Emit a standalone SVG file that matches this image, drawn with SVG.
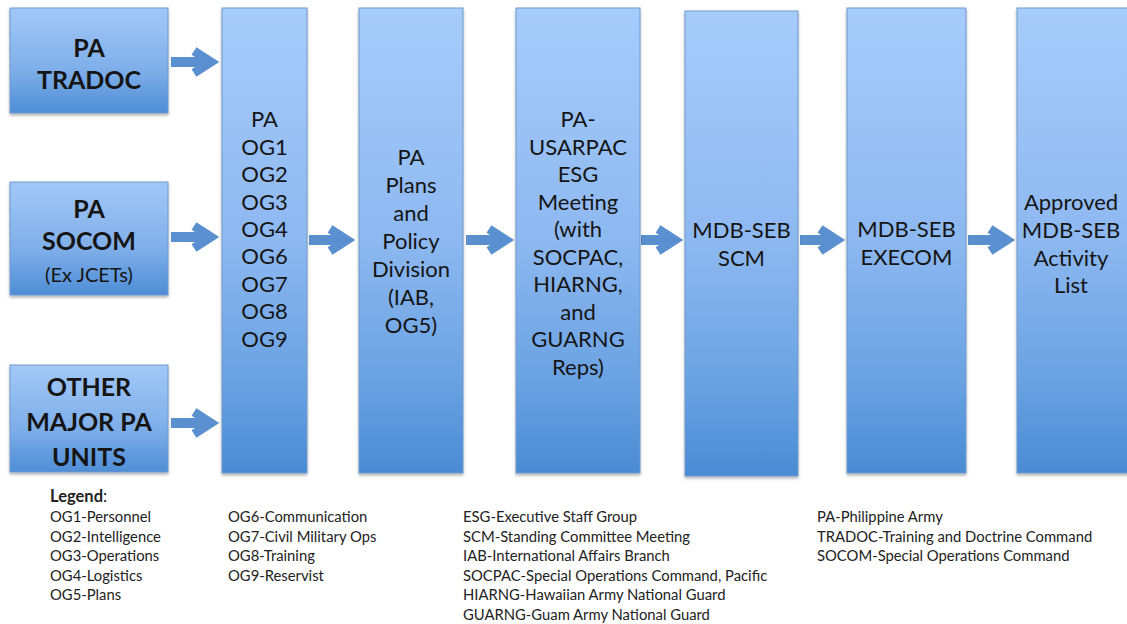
<svg xmlns="http://www.w3.org/2000/svg" width="1127" height="624" viewBox="0 0 1127 624">
<defs>
<linearGradient id="g" x1="0" y1="0" x2="0" y2="1">
<stop offset="0" stop-color="#a7ccfb"/>
<stop offset="0.5" stop-color="#8db8f0"/>
<stop offset="0.8" stop-color="#6aa2e2"/>
<stop offset="1" stop-color="#4a8bd4"/>
</linearGradient>
<linearGradient id="gs" x1="0" y1="0" x2="0" y2="1">
<stop offset="0" stop-color="#a3c8f7"/>
<stop offset="0.6" stop-color="#7eaee9"/>
<stop offset="1" stop-color="#4e8dd6"/>
</linearGradient>
<filter id="sh" x="-10%" y="-10%" width="120%" height="120%">
<feDropShadow dx="0" dy="2" stdDeviation="1.5" flood-color="#000" flood-opacity="0.3"/>
</filter>
<marker id="ah" markerUnits="userSpaceOnUse" markerWidth="30" markerHeight="34" refX="0" refY="0" orient="auto" overflow="visible">
<path d="M-17,-11 L0,0 L-17,11" fill="none" stroke="#5a8fd0" stroke-width="9" stroke-linejoin="miter"/>
</marker>
</defs>
<style>
.box{fill:url(#g);stroke:#6f98cc;stroke-width:1;filter:url(#sh)}
.sbox{fill:url(#gs);stroke:#6f98cc;stroke-width:1;filter:url(#sh)}
.t{font-family:Lato,"Liberation Sans",sans-serif;font-size:22px;fill:#151515;text-anchor:middle}
.b{font-family:Lato,"Liberation Sans",sans-serif;font-size:25px;font-weight:bold;fill:#151515;text-anchor:middle}
.s{font-family:Lato,"Liberation Sans",sans-serif;font-size:20px;fill:#151515;text-anchor:middle}
.l{font-family:Lato,"Liberation Sans",sans-serif;font-size:14.8px;fill:#222}
.lg{font-size:16.5px}
.c{fill:none;stroke:#5a8fd0;stroke-width:10;marker-end:url(#ah)}
</style>
<rect width="1127" height="624" fill="#fff"/>

<g id="connectors">
<path class="c" d="M171,62 H211"/>
<path class="c" d="M171,237 H211"/>
<path class="c" d="M171,423 H211"/>
<path class="c" d="M309,240 H347"/>
<path class="c" d="M466,240 H506"/>
<path class="c" d="M641,240 H675"/>
<path class="c" d="M800,240 H837"/>
<path class="c" d="M968,240 H1007"/>
</g>

<g id="tradoc">
<rect class="sbox" x="10" y="8" width="158" height="105"/>
<text class="b" x="89" y="57">PA</text>
<text class="b" x="89" y="89">TRADOC</text>
</g>
<g id="socom">
<rect class="sbox" x="10" y="182" width="158" height="113"/>
<text class="b" x="89" y="218">PA</text>
<text class="b" x="89" y="250">SOCOM</text>
<text class="s" x="89" y="282">(Ex JCETs)</text>
</g>
<g id="other">
<rect class="sbox" x="10" y="365" width="158" height="107"/>
<text class="b" x="89" y="396">OTHER</text>
<text class="b" x="89" y="431">MAJOR PA</text>
<text class="b" x="89" y="466">UNITS</text>
</g>

<g id="og">
<rect class="box" x="222" y="8" width="85" height="465"/>
<text class="t" x="264.5" y="127">PA</text>
<text class="t" x="264.5" y="154.5">OG1</text>
<text class="t" x="264.5" y="182">OG2</text>
<text class="t" x="264.5" y="209.5">OG3</text>
<text class="t" x="264.5" y="237">OG4</text>
<text class="t" x="264.5" y="264">OG6</text>
<text class="t" x="264.5" y="291.5">OG7</text>
<text class="t" x="264.5" y="319">OG8</text>
<text class="t" x="264.5" y="346.5">OG9</text>
</g>

<g id="plans">
<rect class="box" x="359" y="8" width="104" height="465"/>
<text class="t" x="411" y="165">PA</text>
<text class="t" x="411" y="193">Plans</text>
<text class="t" x="411" y="221">and</text>
<text class="t" x="411" y="249">Policy</text>
<text class="t" x="411" y="277">Division</text>
<text class="t" x="411" y="305">(IAB,</text>
<text class="t" x="411" y="333">OG5)</text>
</g>

<g id="usarpac">
<rect class="box" x="516" y="8" width="124" height="465"/>
<text class="t" x="578" y="127">PA-</text>
<text class="t" x="578" y="154.5">USARPAC</text>
<text class="t" x="578" y="182">ESG</text>
<text class="t" x="578" y="209.5">Meeting</text>
<text class="t" x="578" y="237">(with</text>
<text class="t" x="578" y="264.5">SOCPAC,</text>
<text class="t" x="578" y="292">HIARNG,</text>
<text class="t" x="578" y="319.5">and</text>
<text class="t" x="578" y="347">GUARNG</text>
<text class="t" x="578" y="374.5">Reps)</text>
</g>

<g id="scm">
<rect class="box" x="685" y="11" width="113" height="465"/>
<text class="t" x="741.5" y="238">MDB-SEB</text>
<text class="t" x="741.5" y="266">SCM</text>
</g>

<g id="execom">
<rect class="box" x="847" y="8" width="119" height="465"/>
<text class="t" x="906.5" y="237">MDB-SEB</text>
<text class="t" x="906.5" y="265">EXECOM</text>
</g>

<g id="approved">
<rect class="box" x="1017" y="8" width="112" height="465"/>
<text class="t" x="1071" y="210">Approved</text>
<text class="t" x="1071" y="238">MDB-SEB</text>
<text class="t" x="1071" y="265.5">Activity</text>
<text class="t" x="1071" y="293">List</text>
</g>

<g id="legend">
<text class="l lg" x="50" y="502"><tspan font-weight="bold">Legend</tspan>:</text>
<text class="l" x="50" y="522">OG1-Personnel</text>
<text class="l" x="50" y="541.5">OG2-Intelligence</text>
<text class="l" x="50" y="561">OG3-Operations</text>
<text class="l" x="50" y="580.5">OG4-Logistics</text>
<text class="l" x="50" y="600">OG5-Plans</text>
<text class="l" x="228" y="522">OG6-Communication</text>
<text class="l" x="228" y="541.5">OG7-Civil Military Ops</text>
<text class="l" x="228" y="561">OG8-Training</text>
<text class="l" x="228" y="580.5">OG9-Reservist</text>
<text class="l" x="463" y="522">ESG-Executive Staff Group</text>
<text class="l" x="463" y="541.5">SCM-Standing Committee Meeting</text>
<text class="l" x="463" y="561">IAB-International Affairs Branch</text>
<text class="l" x="463" y="580.5">SOCPAC-Special Operations Command, Pacific</text>
<text class="l" x="463" y="600">HIARNG-Hawaiian Army National Guard</text>
<text class="l" x="463" y="619.5">GUARNG-Guam Army National Guard</text>
<text class="l" x="817" y="522">PA-Philippine Army</text>
<text class="l" x="817" y="541.5">TRADOC-Training and Doctrine Command</text>
<text class="l" x="817" y="561">SOCOM-Special Operations Command</text>
</g>
</svg>
